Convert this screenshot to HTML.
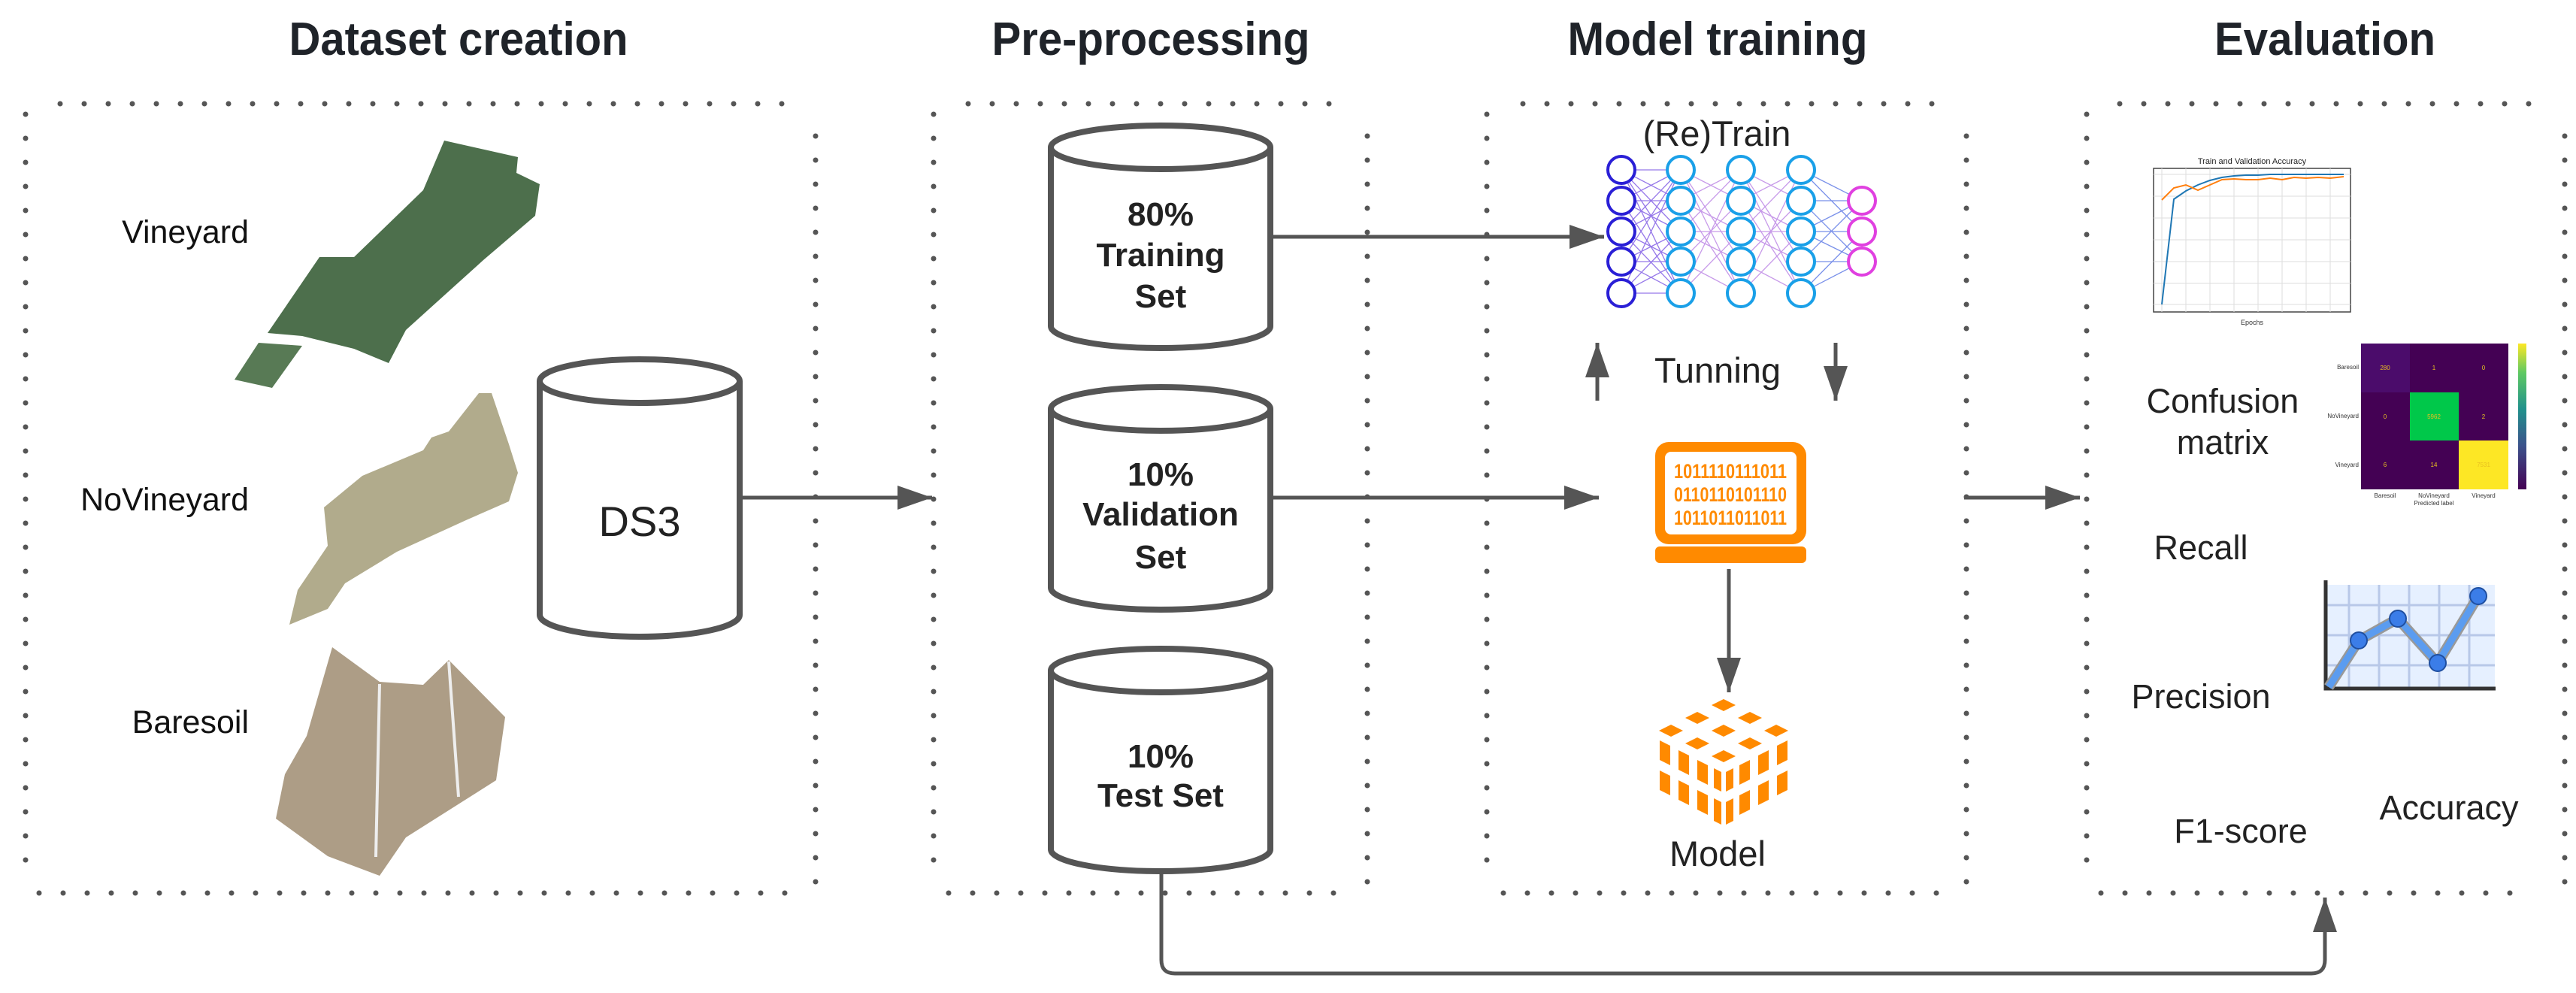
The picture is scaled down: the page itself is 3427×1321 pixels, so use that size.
<!DOCTYPE html>
<html><head><meta charset="utf-8"><style>
html,body{margin:0;padding:0;background:#fff;}
svg{display:block;font-family:"Liberation Sans",sans-serif;}
</style></head><body>
<svg width="3427" height="1321" viewBox="0 0 3427 1321" xmlns="http://www.w3.org/2000/svg">
<defs>
<marker id="ah" markerWidth="46" markerHeight="32" refX="46" refY="16" orient="auto" markerUnits="userSpaceOnUse" style="overflow:visible">
<path d="M0,0 L46,16 L0,32 z" fill="#555"/>
</marker>
<linearGradient id="vir" x1="0" y1="1" x2="0" y2="0"><stop offset="0" stop-color="#440154"/><stop offset="0.3" stop-color="#3b528b"/><stop offset="0.55" stop-color="#21918c"/><stop offset="0.8" stop-color="#5ec962"/><stop offset="1" stop-color="#fde725"/></linearGradient>
</defs>
<g font-weight="bold" font-size="62" fill="#1f2329" text-anchor="middle">
<text x="610" y="73" textLength="451" lengthAdjust="spacingAndGlyphs">Dataset creation</text>
<text x="1531" y="73" textLength="423" lengthAdjust="spacingAndGlyphs">Pre-processing</text>
<text x="2285" y="73" textLength="399" lengthAdjust="spacingAndGlyphs">Model training</text>
<text x="3093" y="73" textLength="294" lengthAdjust="spacingAndGlyphs">Evaluation</text>
</g>
<!-- dotted boxes -->
<g stroke="#555" stroke-width="7" stroke-linecap="round" stroke-dasharray="0 32" fill="none">
<path d="M80 138 H1070"/><path d="M52 1188 H1045"/><path d="M34 152 V1150"/><path d="M1085 181 V1180"/>
<path d="M1288 138 H1800"/><path d="M1262 1188 H1800"/><path d="M1242 152 V1150"/><path d="M1819 181 V1180"/>
<path d="M2026 138 H2580"/><path d="M2000 1188 H2580"/><path d="M1978 152 V1150"/><path d="M2616 181 V1180"/>
<path d="M2820 138 H3370"/><path d="M2795 1188 H3370"/><path d="M2776 152 V1150"/><path d="M3412 181 V1180"/>
</g>
<!-- left labels -->
<g font-size="43" fill="#111" text-anchor="end">
<text x="331" y="323">Vineyard</text>
<text x="331" y="679">NoVineyard</text>
<text x="331" y="975">Baresoil</text>
</g>
<!-- images -->
<polygon points="591,187 689,209 687,230 718,245 712,287 643,346 540,439 517,483 471,464 402,447 356,443 425,342 471,342 563,253" fill="#4d6f4c"/>
<polygon points="344,456 402,460 362,516 312,505" fill="#587a55"/>
<polygon points="637,523 654,523 677,591 689,629 677,667 620,692 528,734 459,776 436,810 385,831 396,785 436,726 431,675 482,633 563,599 574,582 597,574" fill="#b1ab8c"/>
<polygon points="442,861 505,907 563,911 597,878 672,954 660,1038 540,1114 505,1165 436,1139 367,1089 379,1030 408,979" fill="#ad9d86"/>
<path d="M505,910 L500,1140 M597,880 L610,1060" stroke="#eee" stroke-width="4"/>
<!-- cylinders -->
<g fill="#fff" stroke="#555" stroke-width="8">
<path d="M718 507 V818 A133 29 0 0 0 984 818 V507"/><ellipse cx="851" cy="507" rx="133" ry="29"/>
<path d="M1398 196 V434 A146 29 0 0 0 1690 434 V196"/><ellipse cx="1544" cy="196" rx="146" ry="29"/>
<path d="M1398 544 V782 A146 29 0 0 0 1690 782 V544"/><ellipse cx="1544" cy="544" rx="146" ry="29"/>
<path d="M1398 892 V1130 A146 29 0 0 0 1690 1130 V892"/><ellipse cx="1544" cy="892" rx="146" ry="29"/>
</g>
<text x="851" y="713" font-size="56" text-anchor="middle" fill="#222">DS3</text>
<g font-weight="bold" font-size="44" fill="#222" text-anchor="middle">
<text x="1544" y="300">80%</text><text x="1544" y="354">Training</text><text x="1544" y="409">Set</text>
<text x="1544" y="646">10%</text><text x="1544" y="699">Validation</text><text x="1544" y="756">Set</text>
<text x="1544" y="1021">10%</text><text x="1544" y="1073">Test Set</text>
</g>
<!-- arrows -->
<g stroke="#555" stroke-width="5" fill="none" marker-end="url(#ah)">
<path d="M986 662 H1240"/>
<path d="M1692 315 H2134"/>
<path d="M1692 662 H2127"/>
<path d="M2613 662 H2767"/>
<path d="M1545 1161 V1277 Q1545 1295 1563 1295 H3075 Q3093 1295 3093 1277 V1194"/>
<path d="M2300 757 V921"/>
<path d="M2125 533 V456"/>
<path d="M2442 456 V533"/>
</g>
<!-- NN -->
<g stroke-width="1.3" opacity="0.7">
<g stroke="#6a3fe0">
<path d="M2157 226 L2236 226 M2157 226 L2236 267 M2157 226 L2236 308 M2157 226 L2236 348 M2157 226 L2236 390 M2157 267 L2236 226 M2157 267 L2236 308 M2157 267 L2236 390 M2157 308 L2236 226 M2157 308 L2236 267 M2157 308 L2236 348 M2157 308 L2236 390 M2157 348 L2236 226 M2157 348 L2236 308 M2157 348 L2236 390 M2157 390 L2236 226 M2157 390 L2236 308 M2157 390 L2236 348 M2157 267 L2236 267 M2157 348 L2236 348 M2157 390 L2236 390"/>
</g>
<g stroke="#b070e0">
<path d="M2236 226 L2316 267 M2236 226 L2316 348 M2236 267 L2316 226 M2236 267 L2316 308 M2236 267 L2316 390 M2236 308 L2316 226 M2236 308 L2316 348 M2236 348 L2316 267 M2236 348 L2316 390 M2236 390 L2316 308 M2236 390 L2316 226 M2236 226 L2316 390 M2236 308 L2316 308"/>
<path d="M2316 226 L2396 267 M2316 226 L2396 348 M2316 267 L2396 226 M2316 267 L2396 308 M2316 267 L2396 390 M2316 308 L2396 226 M2316 308 L2396 348 M2316 348 L2396 267 M2316 348 L2396 390 M2316 390 L2396 308 M2316 390 L2396 226 M2316 226 L2396 390 M2316 308 L2396 308"/>
</g>
<g stroke="#4060e0">
<path d="M2396 226 L2477 267 M2396 226 L2477 308 M2396 267 L2477 267 M2396 267 L2477 348 M2396 308 L2477 267 M2396 308 L2477 308 M2396 308 L2477 348 M2396 348 L2477 267 M2396 348 L2477 348 M2396 390 L2477 308 M2396 390 L2477 348"/>
</g>
</g>
<g fill="#fff" stroke-width="4">
<g stroke="#2a1fd6"><circle cx="2157" cy="226" r="18"/><circle cx="2157" cy="267" r="18"/><circle cx="2157" cy="308" r="18"/><circle cx="2157" cy="348" r="18"/><circle cx="2157" cy="390" r="18"/></g>
<g stroke="#1aa0e8"><circle cx="2236" cy="226" r="18"/><circle cx="2236" cy="267" r="18"/><circle cx="2236" cy="308" r="18"/><circle cx="2236" cy="348" r="18"/><circle cx="2236" cy="390" r="18"/>
<circle cx="2316" cy="226" r="18"/><circle cx="2316" cy="267" r="18"/><circle cx="2316" cy="308" r="18"/><circle cx="2316" cy="348" r="18"/><circle cx="2316" cy="390" r="18"/>
<circle cx="2396" cy="226" r="18"/><circle cx="2396" cy="267" r="18"/><circle cx="2396" cy="308" r="18"/><circle cx="2396" cy="348" r="18"/><circle cx="2396" cy="390" r="18"/></g>
<g stroke="#e040e0"><circle cx="2477" cy="267" r="18"/><circle cx="2477" cy="308" r="18"/><circle cx="2477" cy="348" r="18"/></g>
</g>
<g font-size="47" fill="#222" text-anchor="middle">
<text x="2284" y="194">(Re)Train</text>
<text x="2285" y="509">Tunning</text>
<text x="2285" y="1152">Model</text>
</g>
<!-- computer -->
<rect x="2202" y="588" width="201" height="136" rx="18" fill="#ff8a00"/>
<rect x="2215" y="601" width="175" height="110" rx="8" fill="#fff"/>
<rect x="2202" y="727" width="201" height="22" rx="6" fill="#ff8a00"/>
<g font-size="27" font-weight="bold" fill="#ff8a00" text-anchor="middle">
<text x="2302" y="636" textLength="150" lengthAdjust="spacingAndGlyphs">1011110111011</text>
<text x="2302" y="667" textLength="150" lengthAdjust="spacingAndGlyphs">0110110101110</text>
<text x="2302" y="698" textLength="150" lengthAdjust="spacingAndGlyphs">1011011011011</text>
</g>
<!-- cube -->
<g fill="#ff8a00" transform="translate(8,0)">
<path d="M2285 930 l16 8 -16 8 -16 -8z"/><path d="M2250 947 l16 8 -16 8 -16 -8z"/><path d="M2320 947 l16 8 -16 8 -16 -8z"/>
<path d="M2215 964 l16 8 -16 8 -16 -8z"/><path d="M2285 964 l16 8 -16 8 -16 -8z"/><path d="M2355 964 l16 8 -16 8 -16 -8z"/>
<path d="M2250 981 l16 8 -16 8 -16 -8z"/><path d="M2320 981 l16 8 -16 8 -16 -8z"/><path d="M2285 998 l16 8 -16 8 -16 -8z"/>
<path d="M2200 985 l14 7 v26 l-14 -7z"/><path d="M2225 998 l14 7 v26 l-14 -7z"/><path d="M2250 1011 l14 7 v26 l-14 -7z"/><path d="M2272 1022 l10 5 v26 l-10 -5z"/>
<path d="M2200 1025 l14 7 v26 l-14 -7z"/><path d="M2225 1038 l14 7 v26 l-14 -7z"/><path d="M2250 1051 l14 7 v26 l-14 -7z"/><path d="M2272 1062 l10 5 v30 l-10 -5z"/>
<path d="M2370 985 l-14 7 v26 l14 -7z"/><path d="M2345 998 l-14 7 v26 l14 -7z"/><path d="M2320 1011 l-14 7 v26 l14 -7z"/><path d="M2298 1022 l-10 5 v26 l10 -5z"/>
<path d="M2370 1025 l-14 7 v26 l14 -7z"/><path d="M2345 1038 l-14 7 v26 l14 -7z"/><path d="M2320 1051 l-14 7 v26 l14 -7z"/><path d="M2298 1062 l-10 5 v30 l10 -5z"/>
</g>
<!-- accuracy chart -->
<text x="2996" y="218" font-size="11" text-anchor="middle" fill="#222">Train and Validation Accuracy</text>
<rect x="2865" y="224" width="262" height="191" fill="#fff" stroke="#444" stroke-width="1.5"/>
<g stroke="#ddd" stroke-width="1">
<path d="M2865 232 H3127 M2865 261 H3127 M2865 290 H3127 M2865 319 H3127 M2865 348 H3127 M2865 377 H3127 M2865 405 H3127"/>
<path d="M2876 224 V415 M2908 224 V415 M2940 224 V415 M2972 224 V415 M3004 224 V415 M3036 224 V415 M3068 224 V415 M3100 224 V415"/>
</g>
<polyline points="2876,405 2892,265 2908,254 2924,246 2940,240 2956,236 2972,234 2988,233 3004,233 3020,232 3036,232 3068,232 3118,232" fill="none" stroke="#1f77b4" stroke-width="2"/>
<polyline points="2876,266 2892,250 2908,246 2924,253 2940,246 2956,239 2972,238 2988,239 3004,239 3020,237 3036,239 3052,236 3068,237 3084,236 3100,237 3118,235" fill="none" stroke="#ff7f0e" stroke-width="2"/>
<text x="2996" y="432" font-size="9" text-anchor="middle" fill="#333">Epochs</text>
<!-- confusion matrix -->
<rect x="3141" y="457" width="65" height="65" fill="#4b0c6b"/><rect x="3206" y="457" width="65" height="65" fill="#440154"/><rect x="3271" y="457" width="66" height="65" fill="#440154"/>
<rect x="3141" y="522" width="65" height="64" fill="#440154"/><rect x="3206" y="522" width="65" height="64" fill="#00c84a"/><rect x="3271" y="522" width="66" height="64" fill="#440154"/>
<rect x="3141" y="586" width="65" height="65" fill="#440154"/><rect x="3206" y="586" width="65" height="65" fill="#440154"/><rect x="3271" y="586" width="66" height="65" fill="#fde725"/>
<g font-size="8" fill="#e8c020" text-anchor="middle"><text x="3173" y="492">280</text><text x="3238" y="492">1</text><text x="3304" y="492">0</text><text x="3173" y="557">0</text><text x="3238" y="557">5962</text><text x="3304" y="557">2</text><text x="3173" y="621">6</text><text x="3238" y="621">14</text><text x="3304" y="621">7531</text></g>
<rect x="3350" y="457" width="11" height="194" fill="url(#vir)"/>
<g font-size="8" fill="#333" text-anchor="end"><text x="3138" y="491">Baresoil</text><text x="3138" y="556">NoVineyard</text><text x="3138" y="621">Vineyard</text></g>
<g font-size="8" fill="#333" text-anchor="middle"><text x="3173" y="662">Baresoil</text><text x="3238" y="662">NoVineyard</text><text x="3304" y="662">Vineyard</text><text x="3238" y="672">Predicted label</text></g>
<!-- text -->
<g font-size="45" fill="#222" text-anchor="middle">
<text x="2957" y="549">Confusion</text><text x="2957" y="604">matrix</text>
<text x="2928" y="744">Recall</text>
<text x="2928" y="942">Precision</text>
<text x="2981" y="1121">F1-score</text>
<text x="3258" y="1090">Accuracy</text>
</g>
<!-- line chart icon -->
<rect x="3094" y="778" width="225" height="140" fill="#e6f0ff"/>
<g stroke="#b8c8e8" stroke-width="3"><path d="M3094 805 H3319 M3094 845 H3319 M3094 885 H3319 M3125 778 V918 M3165 778 V918 M3205 778 V918 M3245 778 V918 M3285 778 V918"/></g>
<path d="M3094 772 V916 H3320" stroke="#333" stroke-width="5" fill="none"/>
<polyline points="3098,914 3138,852 3190,823 3243,882 3297,793" fill="none" stroke="#999" stroke-width="14"/>
<polyline points="3098,914 3138,852 3190,823 3243,882 3297,793" fill="none" stroke="#5b9cf0" stroke-width="9"/>
<g fill="#3b7de8" stroke="#1f4fa0" stroke-width="2"><circle cx="3138" cy="852" r="11"/><circle cx="3190" cy="823" r="11"/><circle cx="3243" cy="882" r="11"/><circle cx="3297" cy="793" r="11"/></g>
</svg>
</body></html>
